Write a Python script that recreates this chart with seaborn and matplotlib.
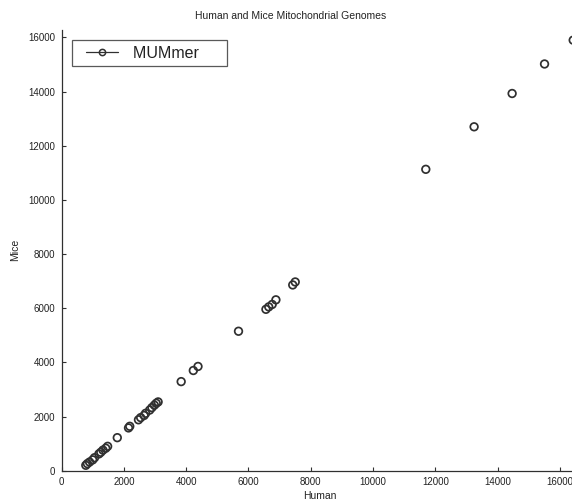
import pandas as pd
import seaborn as sns
import matplotlib.pyplot as plt
from matplotlib.lines import Line2D
from matplotlib.legend_handler import HandlerLine2D

# Anchor positions (bp)
human = [780, 830, 900, 1000, 1060, 1200, 1260, 1330, 1420, 1480, 1790, 2150, 2190,
         2470, 2540, 2650, 2700, 2830, 2900, 2980, 3040, 3100, 3840, 4230, 4380,
         5680, 6560, 6650, 6760, 6880, 7420, 7500, 11690, 13240, 14460, 15500, 16420]
mice = [200, 260, 320, 400, 480, 620, 680, 760, 830, 900, 1220, 1580, 1640,
        1880, 1960, 2040, 2120, 2240, 2330, 2420, 2490, 2540, 3290, 3700, 3850,
        5150, 5960, 6050, 6140, 6310, 6860, 6970, 11130, 12700, 13930, 15020, 15900]
x_ticks = [0, 2000, 4000, 6000, 8000, 10000, 12000, 14000, 16000]
y_ticks = [0, 2000, 4000, 6000, 8000, 10000, 12000, 14000, 16000]

df = pd.DataFrame({"Human": human, "Mice": mice})

sns.set_style("ticks")
plt.rcParams['font.family'] = ['Liberation Sans', 'DejaVu Sans']

fig = plt.figure(figsize=(5.72, 5.01), dpi=100)
ax = fig.add_axes([61.5 / 572, 30.3 / 501, 517 / 572, 440.7 / 501])

kolor = "#303030"
sns.scatterplot(data=df, x="Human", y="Mice", ax=ax, marker="o", s=30,
                facecolor="none", edgecolor=kolor, linewidth=1.25, legend=False)

ax.set_xlim(0, 16590)
ax.set_ylim(0, 16275)
ax.set_xticks(x_ticks)
ax.set_yticks(y_ticks)
ax.tick_params(direction="in", length=3, width=0.8, colors=kolor, labelsize=7,
               labelcolor="#222222", pad=4.5)
for s in ["top", "right"]:
    ax.spines[s].set_visible(False)
for s in ["left", "bottom"]:
    ax.spines[s].set_color(kolor)
    ax.spines[s].set_linewidth(0.9)

ax.set_xlabel("Human", fontsize=7.5, color="#222222", labelpad=3)
ax.set_ylabel("Mice", fontsize=7.5, color="#222222", labelpad=6)
ax.set_title("Human and Mice Mitochondrial Genomes", fontsize=7.5,
             color="#222222", x=(291 - 61.5) / 517, pad=8)

handle = Line2D([], [], color=kolor, linewidth=0.9, marker="o", markersize=4.5,
                markerfacecolor="none", markeredgecolor=kolor, markeredgewidth=1.1)
leg = ax.legend([handle], ["MUMmer     "], loc="upper left",
                bbox_to_anchor=((72 - 61.5) / 517, (470.7 - 40) / 440.7),
                handler_map={handle: HandlerLine2D(xpad=0.5)},
                fontsize=11.5, frameon=True, fancybox=False, handlelength=2.56,
                handletextpad=0.94, borderpad=0.35, borderaxespad=0)
leg.get_frame().set_edgecolor(kolor)
leg.get_frame().set_linewidth(0.9)
for t in leg.get_texts():
    t.set_color("#222222")

fig.savefig("out.png", dpi=100)
